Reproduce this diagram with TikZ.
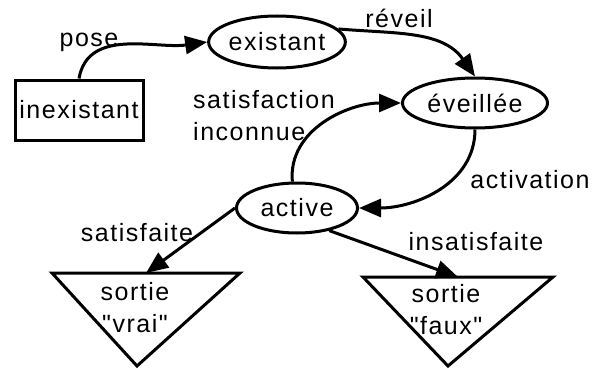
\documentclass[tikz,border=0pt]{standalone}
\usepackage{fontspec}
\newfontfamily\geneva{Liberation Sans}[LetterSpace=6]
\usetikzlibrary{shapes.geometric,arrows.meta,positioning}

\tikzset{
  etat/.style={draw, ellipse, line width=3pt, inner sep=0pt},
  depart/.style={draw, rectangle, line width=3pt, minimum width=128pt, minimum height=60pt, inner sep=0pt},
  sortie/.style={draw, line width=3pt},
  fleche/.style={line width=3pt, -{Triangle[length=22pt,width=18pt]}},
  lbl/.style={inner sep=0pt, align=center}
}

\begin{document}
\begin{tikzpicture}[x=1pt,y=1pt,font=\geneva\fontsize{25}{32}\selectfont]
\useasboundingbox (0,0) rectangle (594,-369);

\node[depart] (inex) at (79,-110) {inexistant};
\node[etat, minimum width=127pt, minimum height=52pt] (exist) at (277,-42) {existant};
\node[etat, minimum width=145pt, minimum height=50pt] (evei) at (475,-103) {éveillée};
\node[etat, minimum width=121pt, minimum height=50pt] (active) at (297,-208) {active};

\coordinate (vraihaut) at (146,-273);
\coordinate (fauxhaut) at (458,-277);
\draw[sortie] (52,-273) -- (240,-273) -- (137,-366) -- cycle;
\draw[sortie] (363,-277) -- (553,-277) -- (448,-366) -- cycle;
\node[lbl] (vraitxt) at (135,-308) {sortie\\"vrai"};
\node[lbl] (fauxtxt) at (446,-310) {sortie\\"faux"};

\node[lbl] (lpose) at (89,-42) {pose};
\node[lbl] (lreveil) at (399,-18) {réveil};
\node[lbl, align=left, anchor=west] (lsatinc) at (193,-116) {satisfaction\\inconnue};
\node[lbl] (lactiv) at (530,-180) {activation};
\node[lbl] (lsat) at (137,-233) {satisfaite};
\node[lbl] (linsat) at (476,-242) {insatisfaite};

\draw[fleche] (inex.north) to[out=80,in=188] (exist.west);
\draw[fleche] (exist.12) to[out=-5,in=125] (evei.north);
\draw[fleche] (active.100) to[out=95,in=180] (evei.west);
\draw[fleche] (evei.south) to[out=-90,in=0] (active.east);
\draw[fleche] (active.west) -- (vraihaut);
\draw[fleche] (active.-35) -- (fauxhaut);

\end{tikzpicture}
\end{document}
